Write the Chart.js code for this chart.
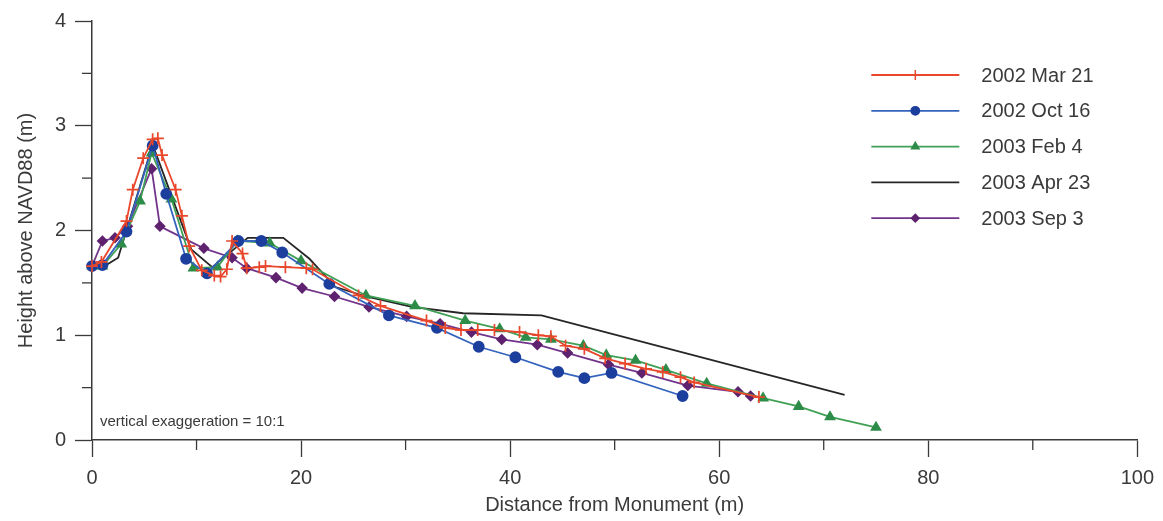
<!DOCTYPE html>
<html>
<head>
<meta charset="utf-8">
<script src="https://cdn.jsdelivr.net/npm/chart.js@4"></script>
<style>
  body { margin: 0; background: #ffffff; }
  #profile { display: block; }
</style>
</head>
<body>
<canvas id="profile" width="1163" height="521"></canvas>
<script>
// profile surveys, distance (m) and height (m)
const surveyNames = ['2002 Mar 21', '2002 Oct 16', '2003 Feb 4', '2003 Apr 23', '2003 Sep 3'];

const marDist = [0, 0.9, 3.3, 3.9, 4.9, 5.8, 6.3, 6.7, 8.0, 8.6, 9.3, 10.5, 11.7, 12.3, 12.9, 13.4, 14.4, 14.8, 16.0, 16.6, 18.5, 20.5, 21.1, 25.5, 27.6, 32.0, 33.8, 35.3, 36.9, 38.5, 40.9, 42.7, 43.9, 45.3, 47.1, 49.1, 51.0, 53.0, 54.6, 56.3, 57.6, 63.8];
const marHeight = [1.66, 1.70, 2.09, 2.39, 2.69, 2.87, 2.88, 2.72, 2.39, 2.14, 1.85, 1.62, 1.57, 1.56, 1.63, 1.90, 1.78, 1.64, 1.65, 1.66, 1.65, 1.64, 1.63, 1.38, 1.28, 1.14, 1.07, 1.05, 1.05, 1.05, 1.03, 1.00, 0.99, 0.90, 0.87, 0.78, 0.73, 0.68, 0.65, 0.60, 0.55, 0.41];

const octDist = [0, 1.0, 3.3, 5.8, 7.1, 9.0, 11.0, 14.0, 16.2, 18.2, 22.7, 28.4, 33.0, 37.0, 40.5, 44.6, 47.1, 49.7, 56.5];
const octHeight = [1.66, 1.67, 1.99, 2.81, 2.35, 1.73, 1.59, 1.90, 1.90, 1.79, 1.49, 1.19, 1.07, 0.89, 0.79, 0.65, 0.59, 0.64, 0.42];

const febDist = [0, 1.0, 2.8, 4.6, 5.7, 7.6, 9.7, 12.0, 13.9, 17.0, 20.0, 26.2, 30.9, 35.7, 39.0, 41.5, 43.9, 47.0, 49.2, 52.0, 54.9, 58.8, 64.2, 67.6, 70.6, 75.0];
const febHeight = [1.66, 1.66, 1.87, 2.28, 2.74, 2.30, 1.64, 1.65, 1.90, 1.88, 1.71, 1.38, 1.28, 1.14, 1.06, 0.98, 0.96, 0.90, 0.81, 0.76, 0.67, 0.54, 0.40, 0.32, 0.22, 0.12];

const aprDist = [0, 1.2, 2.5, 5.8, 9.5, 11.5, 14.9, 18.3, 20.8, 22.0, 23.3, 26.2, 30.6, 35.5, 43.0, 72.0];
const aprHeight = [1.66, 1.66, 1.74, 2.82, 1.82, 1.65, 1.93, 1.93, 1.73, 1.60, 1.46, 1.37, 1.27, 1.21, 1.19, 0.43];

const sepDist = [0, 1.0, 2.2, 3.4, 5.7, 6.5, 10.7, 13.4, 14.8, 17.6, 20.1, 23.2, 26.5, 30.1, 33.3, 36.3, 39.2, 42.6, 45.5, 49.4, 52.6, 57.0, 61.8, 63.0];
const sepHeight = [1.66, 1.90, 1.93, 2.04, 2.59, 2.04, 1.83, 1.74, 1.64, 1.55, 1.45, 1.37, 1.27, 1.18, 1.11, 1.03, 0.96, 0.91, 0.83, 0.72, 0.64, 0.52, 0.46, 0.42];

const exaggerationNote = 'vertical exaggeration = 10:1';

function pairs(xs, ys) {
    return xs.map((x, i) => ({ x: x, y: ys[i] }));
}

const FONT = '"Liberation Sans", Arial, Helvetica, sans-serif';
const INK = '#3a3a3a';

const datasets = [
    { label: surveyNames[0], data: pairs(marDist, marHeight), borderColor: '#e8472b', backgroundColor: '#e8472b',
      pointStyle: 'cross', pointRadius: 6, pointBorderWidth: 1.7 },
    { label: surveyNames[1], data: pairs(octDist, octHeight), borderColor: '#3463bd', backgroundColor: '#1c3f9e',
      pointBorderColor: '#1c3f9e', pointStyle: 'circle', pointRadius: 5 },
    { label: surveyNames[2], data: pairs(febDist, febHeight), borderColor: '#40a055', backgroundColor: '#2e8c49',
      pointBorderColor: '#2e8c49', pointStyle: 'triangle', pointRadius: 5 },
    { label: surveyNames[3], data: pairs(aprDist, aprHeight), borderColor: '#262626', backgroundColor: '#262626',
      pointRadius: 0 },
    { label: surveyNames[4], data: pairs(sepDist, sepHeight), borderColor: '#72348a', backgroundColor: '#5e226f',
      pointBorderColor: '#5e226f', pointStyle: 'rectRot', pointRadius: 4.5 }
];
datasets.forEach(d => {
    d.borderWidth = 1.8;
    d.fill = false;
    d.tension = 0;
    d.clip = false;
});

// minor ticks + legend + note
const extras = {
    id: 'extras',
    afterDraw(chart) {
        const ctx = chart.ctx;
        const xs = chart.scales.x, ys = chart.scales.y;
        const area = chart.chartArea;
        ctx.save();
        ctx.strokeStyle = INK;
        ctx.lineWidth = 1.3;
        for (let v = 10; v < 100; v += 20) {
            const px = xs.getPixelForValue(v);
            ctx.beginPath();
            ctx.moveTo(px, area.bottom);
            ctx.lineTo(px, area.bottom + 10);
            ctx.stroke();
        }
        for (let v = 0.5; v < 4; v += 1) {
            const py = ys.getPixelForValue(v);
            ctx.beginPath();
            ctx.moveTo(area.left, py);
            ctx.lineTo(area.left - 10, py);
            ctx.stroke();
        }

        // legend
        const lx = area.right - 266, top = area.top + 54, gap = 35.8;
        ctx.font = '20px ' + FONT;
        ctx.textBaseline = 'middle';
        chart.data.datasets.forEach((d, i) => {
            const y = top + i * gap;
            ctx.strokeStyle = d.borderColor;
            ctx.lineWidth = 1.8;
            ctx.beginPath();
            ctx.moveTo(lx, y);
            ctx.lineTo(lx + 88, y);
            ctx.stroke();
            if (d.pointRadius > 0) {
                ctx.fillStyle = d.pointBorderColor || d.backgroundColor;
                ctx.strokeStyle = d.pointBorderColor || d.borderColor;
                if (d.pointStyle === 'cross') {
                    ctx.lineWidth = 1.5;
                    ctx.beginPath();
                    ctx.moveTo(lx + 44, y - 5);
                    ctx.lineTo(lx + 44, y + 5);
                    ctx.stroke();
                } else {
                    Chart.helpers.drawPoint(ctx, {
                        pointStyle: d.pointStyle,
                        radius: d.pointRadius * 0.8,
                        borderWidth: 1
                    }, lx + 44, y);
                }
            }
            ctx.fillStyle = INK;
            ctx.textAlign = 'left';
            ctx.fillText(d.label, lx + 110, y + 1);
        });

        ctx.font = '15px ' + FONT;
        ctx.fillStyle = INK;
        ctx.textAlign = 'left';
        ctx.textBaseline = 'alphabetic';
        ctx.fillText(exaggerationNote, area.left + 8, area.bottom - 14);
        ctx.restore();
    }
};

new Chart(document.getElementById('profile'), {
    type: 'line',
    data: { datasets: datasets },
    options: {
        responsive: false,
        animation: false,
        layout: { padding: { top: 19, right: 21, left: 0, bottom: 0 } },
        plugins: {
            legend: { display: false },
            tooltip: { enabled: false }
        },
        scales: {
            x: {
                type: 'linear',
                min: 0,
                max: 100,
                afterFit: s => { s.height = 81; },
                border: { display: true, color: INK, width: 1.5 },
                grid: {
                    drawOnChartArea: false,
                    tickLength: 17,
                    tickWidth: 1.3,
                    tickColor: c => (c.tick && c.tick.value % 20 === 0) ? INK : 'rgba(0,0,0,0)'
                },
                ticks: {
                    stepSize: 10,
                    padding: 9,
                    color: INK,
                    font: { family: FONT, size: 20 },
                    maxRotation: 0,
                    autoSkip: false,
                    callback: v => v % 20 === 0 ? v : ''
                },
                title: {
                    display: true,
                    text: 'Distance from Monument (m)',
                    color: INK,
                    font: { family: FONT, size: 20 },
                    padding: { top: 0, bottom: 4 }
                }
            },
            y: {
                min: 0,
                max: 4,
                afterFit: s => { s.width = 92; },
                border: { display: true, color: INK, width: 1.5 },
                grid: {
                    drawOnChartArea: false,
                    tickLength: 17,
                    tickWidth: 1.3,
                    tickColor: c => (c.tick && c.tick.value % 1 === 0) ? INK : 'rgba(0,0,0,0)'
                },
                ticks: {
                    stepSize: 0.5,
                    padding: 9,
                    color: INK,
                    font: { family: FONT, size: 20 },
                    callback: v => v % 1 === 0 ? v : ''
                },
                title: {
                    display: true,
                    text: 'Height above NAVD88 (m)',
                    color: INK,
                    font: { family: FONT, size: 20 },
                    padding: { top: 14, bottom: 0 }
                }
            }
        }
    },
    plugins: [extras]
});
</script>
</body>
</html>
